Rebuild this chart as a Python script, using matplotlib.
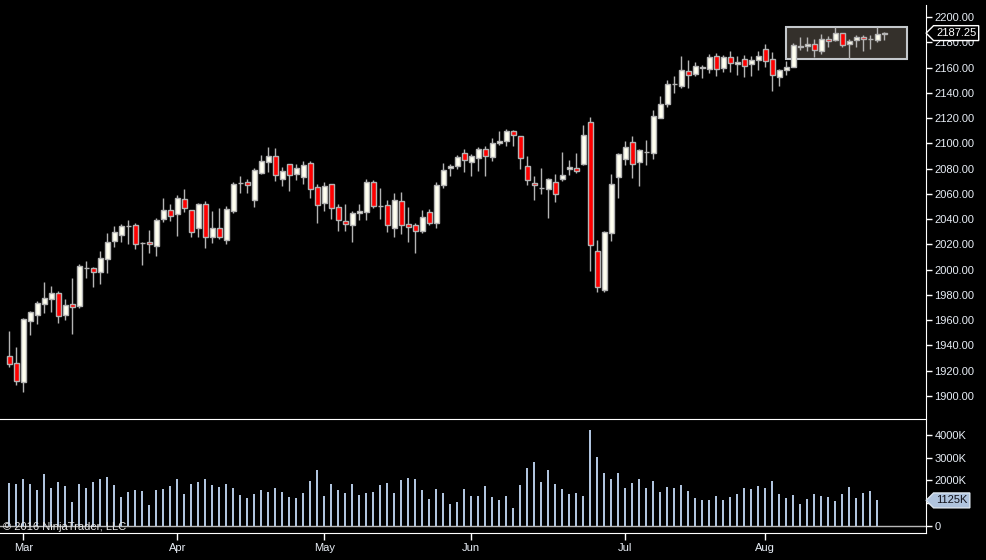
import numpy as np
import matplotlib.pyplot as plt
from matplotlib.patches import Rectangle
from matplotlib.path import Path

plt.rcParams['font.family'] = ['Liberation Sans', 'DejaVu Sans']

""" Data (daily bars, read off the chart) """
opens = [1931.8, 1926.1, 1910.8, 1959.1, 1964.4, 1973.1, 1977.1, 1981.6, 1964.4, 1972.9,
         1971.3, 2001.1, 2001.1, 1998.4, 2008.7, 2023.0, 2027.7, 2034.6, 2035.4, 2020.9,
         2021.9, 2019.0, 2040.4, 2047.3, 2044.3, 2056.0, 2047.3, 2033.3, 2052.0, 2026.1,
         2033.0, 2023.8, 2046.7, 2068.3, 2069.1, 2055.4, 2076.8, 2085.5, 2089.7, 2071.5,
         2083.4, 2076.0, 2073.6, 2084.1, 2065.1, 2052.5, 2067.8, 2049.3, 2038.2, 2035.0,
         2044.6, 2045.3, 2069.1, 2050.4, 2050.9, 2032.6, 2054.0, 2035.8, 2035.0, 2030.3,
         2045.3, 2036.6, 2066.7, 2080.2, 2082.3, 2092.1, 2085.5, 2088.1, 2095.3, 2088.9,
         2100.0, 2101.6, 2109.5, 2105.6, 2081.8, 2068.4, 2064.9, 2063.6, 2069.1, 2071.5,
         2079.4, 2080.2, 2083.4, 2116.6, 2014.5, 1983.7, 2028.8, 2073.1, 2087.4, 2100.8,
         2085.0, 2092.9, 2092.6, 2120.3, 2131.4, 2146.7, 2145.6, 2157.0, 2155.1, 2160.7,
         2159.1, 2168.8, 2159.3, 2168.0, 2162.5, 2166.5, 2163.0, 2166.2, 2174.4, 2166.5,
         2152.7, 2157.8, 2160.1, 2176.2, 2176.8, 2178.4, 2172.8, 2182.3, 2181.5, 2187.0,
         2178.4, 2181.5, 2183.9, 2182.6, 2181.5, 2186.3]
highs = [1951.5, 1938.8, 1961.5, 1967.3, 1975.2, 1990.3, 1987.1, 1983.1, 1976.8, 1993.7,
         2004.5, 2006.9, 2001.9, 2015.0, 2029.0, 2034.6, 2036.4, 2039.4, 2036.7, 2022.2,
         2031.4, 2041.0, 2056.8, 2052.3, 2059.1, 2063.9, 2047.3, 2053.0, 2054.4, 2046.4,
         2048.8, 2050.2, 2069.7, 2074.1, 2071.7, 2080.5, 2090.7, 2097.1, 2096.3, 2081.3,
         2083.4, 2083.6, 2086.0, 2086.0, 2067.8, 2069.4, 2067.8, 2051.9, 2051.9, 2046.1,
         2051.9, 2071.7, 2070.7, 2064.6, 2054.9, 2060.7, 2061.5, 2049.6, 2036.6, 2047.2,
         2047.7, 2069.1, 2084.4, 2083.4, 2090.7, 2095.5, 2091.3, 2097.1, 2097.9, 2104.2,
         2109.8, 2111.4, 2110.3, 2105.6, 2090.0, 2073.9, 2080.2, 2072.3, 2075.7, 2093.2,
         2086.8, 2092.4, 2114.5, 2120.9, 2023.2, 2030.4, 2075.7, 2092.4, 2101.9, 2105.6,
         2095.8, 2102.4, 2126.4, 2137.4, 2150.1, 2153.3, 2169.1, 2165.7, 2164.1, 2162.0,
         2170.9, 2171.5, 2169.9, 2172.8, 2168.8, 2169.9, 2169.1, 2172.8, 2178.6, 2172.0,
         2158.5, 2164.9, 2179.1, 2183.9, 2184.1, 2182.3, 2186.5, 2184.9, 2191.8, 2187.0,
         2182.3, 2185.7, 2185.7, 2185.7, 2191.8, 2187.8]
lows = [1923.2, 1909.0, 1903.5, 1948.6, 1956.7, 1966.0, 1966.8, 1958.1, 1960.3, 1949.4,
        1970.0, 1993.7, 1986.6, 1989.0, 1997.6, 2018.2, 2022.2, 2020.6, 2016.6, 2004.0,
        2013.5, 2011.2, 2038.0, 2038.8, 2026.9, 2046.0, 2026.1, 2026.1, 2017.4, 2021.4,
        2024.0, 2020.6, 2045.1, 2060.4, 2060.9, 2049.8, 2076.0, 2077.5, 2070.4, 2066.5,
        2062.5, 2071.0, 2067.8, 2057.0, 2037.2, 2046.7, 2039.8, 2030.8, 2030.8, 2022.1,
        2039.3, 2039.3, 2048.5, 2040.3, 2030.0, 2026.1, 2028.5, 2022.1, 2013.4, 2028.8,
        2035.0, 2032.6, 2064.9, 2073.9, 2079.4, 2077.6, 2074.4, 2078.4, 2074.4, 2085.8,
        2098.4, 2098.0, 2097.6, 2080.0, 2067.3, 2055.4, 2060.2, 2041.2, 2053.8, 2070.5,
        2074.7, 2076.3, 2082.6, 1999.2, 1982.1, 1982.6, 2023.0, 2057.0, 2082.6, 2072.8,
        2066.5, 2082.6, 2087.9, 2120.3, 2129.0, 2140.1, 2143.5, 2144.0, 2153.3, 2152.0,
        2155.4, 2153.5, 2156.7, 2156.2, 2154.3, 2152.8, 2153.5, 2158.3, 2160.7, 2141.7,
        2145.6, 2153.8, 2160.1, 2173.6, 2172.8, 2168.0, 2170.4, 2176.0, 2180.7, 2176.0,
        2167.0, 2176.0, 2172.8, 2174.4, 2179.9, 2181.5]
closes = [1925.1, 1912.2, 1961.0, 1966.3, 1973.6, 1977.6, 1981.6, 1963.6, 1972.1, 1970.8,
          2002.9, 2001.1, 1998.4, 2009.2, 2021.9, 2029.9, 2034.6, 2034.6, 2020.6, 2020.9,
          2020.1, 2039.4, 2047.3, 2042.8, 2056.8, 2049.1, 2030.1, 2052.0, 2026.1, 2033.0,
          2026.1, 2048.0, 2067.8, 2068.3, 2066.7, 2078.6, 2085.7, 2089.9, 2074.6, 2077.8,
          2074.6, 2080.5, 2082.8, 2064.1, 2050.9, 2066.2, 2048.5, 2039.0, 2035.8, 2044.6,
          2046.4, 2069.1, 2050.1, 2050.4, 2035.0, 2054.9, 2035.0, 2033.5, 2030.3, 2041.4,
          2036.6, 2066.7, 2078.6, 2081.8, 2088.9, 2086.6, 2089.7, 2095.3, 2089.7, 2100.0,
          2101.6, 2109.5, 2106.3, 2088.1, 2070.7, 2066.8, 2064.9, 2071.5, 2059.6, 2074.7,
          2081.0, 2077.9, 2106.3, 2019.3, 1986.0, 2029.6, 2067.6, 2091.6, 2096.9, 2083.4,
          2094.5, 2092.9, 2121.5, 2131.1, 2146.7, 2146.7, 2157.8, 2153.8, 2160.9, 2159.3,
          2168.0, 2158.5, 2168.0, 2163.3, 2164.1, 2160.9, 2165.7, 2168.8, 2164.9, 2153.8,
          2157.8, 2160.1, 2177.5, 2176.8, 2178.4, 2173.6, 2182.3, 2180.7, 2187.0, 2177.5,
          2180.7, 2183.9, 2182.3, 2182.6, 2186.3, 2187.25]

# volume in thousands of contracts (no bar shown yet for the last session)
volume = [1890, 1846, 2051, 1846, 1582, 2286, 1670, 1934, 1758, 1055,
          1846, 1670, 1934, 2066, 2154, 1802, 1275, 1495, 1582, 1538,
          923, 1582, 1626, 1758, 2066, 1407, 1846, 1934, 2066, 1802,
          1714, 1846, 1670, 1363, 1231, 1407, 1582, 1495, 1670, 1495,
          1275, 1231, 1451, 1978, 2462, 1319, 1846, 1582, 1451, 1846,
          1363, 1451, 1495, 1802, 1890, 1451, 2022, 2110, 2066, 1582,
          1187, 1626, 1451, 967, 1055, 1626, 1319, 1319, 1758, 1275,
          1143, 1319, 791, 1802, 2549, 2813, 1934, 2462, 1846, 1626,
          1407, 1451, 1319, 4220, 3033, 2330, 2066, 2330, 1670, 1890,
          2066, 1670, 1978, 1495, 1714, 1670, 1802, 1538, 1231, 1143,
          1143, 1319, 1143, 1275, 1407, 1670, 1626, 1758, 1670, 1978,
          1407, 1231, 1363, 967, 1187, 1407, 1319, 1275, 1099, 1407,
          1714, 1231, 1451, 1538, 1125]

month_labels = ['Mar', 'Apr', 'May', 'Jun', 'Jul', 'Aug']
month_starts = [2, 24, 45, 66, 88, 108]   # bar index of first session in month

price_ticks = np.arange(1900, 2201, 20)
vol_ticks = [0, 1000, 2000, 3000, 4000]

# drawn rectangle on the chart (bar index / price)
box_x0, box_x1 = 110.95, 128.2
box_lo, box_hi = 2166.8, 2192.1

""" Styles """
bg = 'black'
txt = '#e8eef6'
up_fill = '#fffff0'
down_fill = '#ff0000'
outline = '#b4b4b4'
vol_color = '#b0c4de'


def tag_box(x0, y0, width, height, mutation_size):
    # box with a pointer on its left side, like the price markers
    pad = 0.22 * mutation_size
    x0, y0 = x0 - pad, y0 - pad
    w, h = width + 2 * pad, height + 2 * pad
    verts = [(x0, y0), (x0 + w, y0), (x0 + w, y0 + h), (x0, y0 + h),
             (x0 - h / 2, y0 + h / 2), (x0, y0)]
    codes = [Path.MOVETO] + [Path.LINETO] * 4 + [Path.CLOSEPOLY]
    return Path(verts, codes)


fig = plt.figure(figsize=(9.87, 5.6), dpi=100, facecolor=bg)
ax1 = fig.add_axes([0, 141 / 560, 926 / 987, 414 / 560], facecolor=bg)
ax2 = fig.add_axes([0, 27 / 560, 926 / 987, 114 / 560], facecolor=bg, sharex=ax1)

x = np.arange(len(closes))
o = np.array(opens)
c = np.array(closes)
up = c >= o

""" Price panel """
ax1.add_patch(Rectangle((box_x0, box_lo), box_x1 - box_x0, box_hi - box_lo,
                        facecolor='#34302b', edgecolor='#c4c8cc', linewidth=1.5, zorder=1))
ax1.vlines(x, lows, highs, color=outline, linewidth=1, zorder=2)
ax1.bar(x, c - o, bottom=o, width=0.72,
        color=np.where(up, up_fill, down_fill), edgecolor=outline, linewidth=1, zorder=3)

ax1.set_xlim(-1.33, 130.96)
ax1.set_ylim(1881.8, 2209.5)
ax1.yaxis.tick_right()
ax1.set_yticks(price_ticks)
ax1.set_yticklabels(['%.2f' % p for p in price_ticks])
ax1.tick_params(axis='y', colors='white', labelcolor=txt, length=4, width=1,
                pad=2, labelsize=8)
ax1.tick_params(axis='x', bottom=False, labelbottom=False)
for side in ['top', 'left', 'bottom']:
    ax1.spines[side].set_visible(False)
ax1.spines['right'].set_color('white')

ax1.text(1.0108, closes[-1], '%.2f' % closes[-1], transform=ax1.get_yaxis_transform(),
         color='white', fontsize=8, va='center', ha='left', clip_on=False, zorder=5,
         bbox=dict(boxstyle=tag_box, facecolor='black', edgecolor='white', linewidth=1))

""" Volume panel """
ax2.bar(x[:len(volume)], volume, width=0.3, color=vol_color, zorder=2)
ax2.axhline(0, color='#b8b8b8', linewidth=1, zorder=1)
ax2.set_ylim(-308, 4703)
ax2.yaxis.tick_right()
ax2.set_yticks(vol_ticks)
ax2.set_yticklabels(['0' if v == 0 else '%dK' % v for v in vol_ticks])
ax2.tick_params(axis='y', colors='white', labelcolor=txt, length=4, width=1,
                pad=2, labelsize=8)
ax2.set_xticks(month_starts)
ax2.set_xticklabels(month_labels)
ax2.tick_params(axis='x', colors='white', labelcolor=txt, length=5, width=1,
                pad=2, labelsize=8)
ax2.spines['left'].set_visible(False)
for side in ['top', 'right', 'bottom']:
    ax2.spines[side].set_color('white')

ax2.text(0.003, 0.055, '\u00a9 2016 NinjaTrader, LLC', transform=ax2.transAxes,
         color='#e6e6e6', fontsize=8, va='center', ha='left', zorder=4)
# the marker covers the 1000K label, as on the original chart
ax2.text(1.0108, volume[-1], '%dK' % volume[-1], transform=ax2.get_yaxis_transform(),
         color='#101018', fontsize=8, va='center', ha='left', clip_on=False, zorder=5,
         bbox=dict(boxstyle=tag_box, facecolor=vol_color, edgecolor='#dde6f0', linewidth=1))

fig.savefig('out.png', dpi=100, facecolor=bg)
